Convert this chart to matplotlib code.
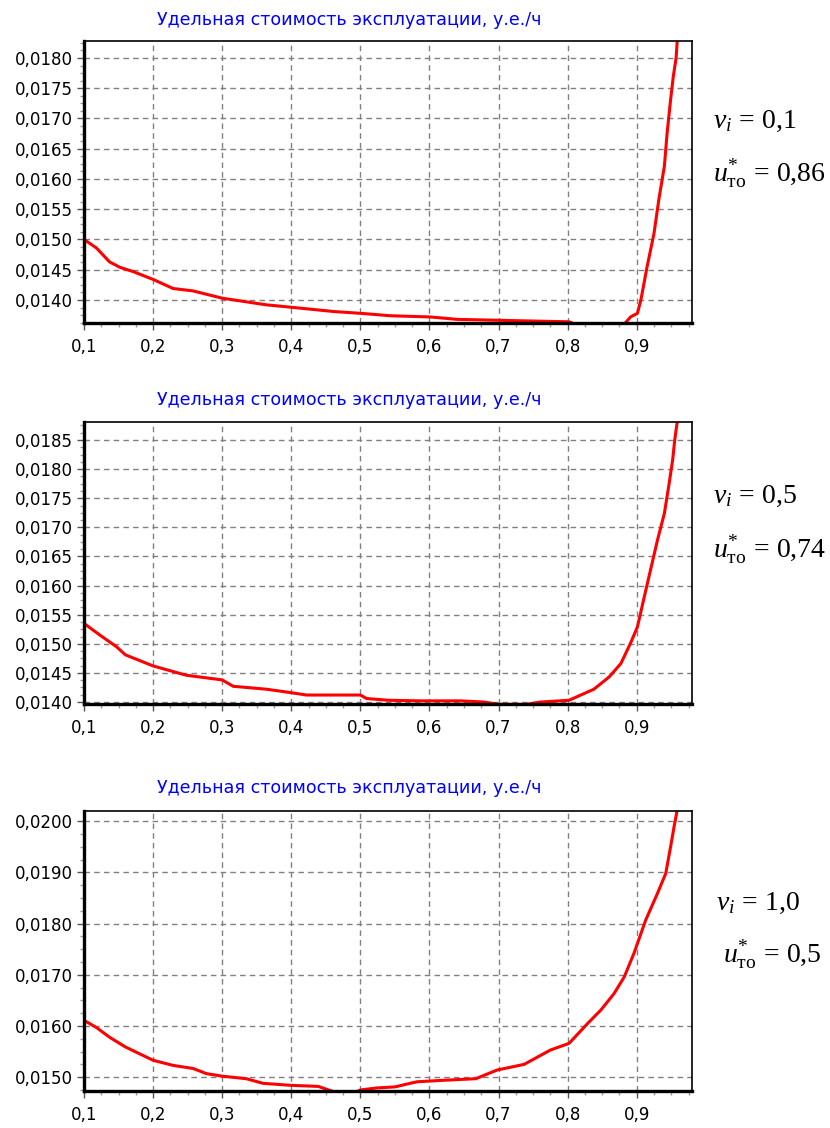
import matplotlib
matplotlib.use("Agg")
import matplotlib.pyplot as plt
from matplotlib.ticker import MultipleLocator, AutoMinorLocator, FuncFormatter

title_text = "Удельная стоимость эксплуатации, у.е./ч"

#panel 1: nu_i = 0.1
x1 = [0.100, 0.118, 0.137, 0.152, 0.171, 0.200, 0.229, 0.258, 0.300, 0.364,
      0.400, 0.461, 0.500, 0.543, 0.601, 0.640, 0.720, 0.802, 0.820, 0.860,
      0.882, 0.891, 0.901, 0.906, 0.915, 0.925, 0.932, 0.940, 0.944, 0.949,
      0.953, 0.957, 0.959]
y1 = [0.01500, 0.01486, 0.01463, 0.01454, 0.01447, 0.01434, 0.01419, 0.01415,
      0.01403, 0.01392, 0.01388, 0.01381, 0.01378, 0.01374, 0.01372, 0.01368,
      0.01366, 0.01364, 0.01356, 0.01356, 0.01360, 0.01372, 0.01378, 0.01400,
      0.01455, 0.01510, 0.01566, 0.01621, 0.01676, 0.01731, 0.01770, 0.01800,
      0.01835]

#panel 2: nu_i = 0.5
x2 = [0.100, 0.123, 0.147, 0.160, 0.200, 0.248, 0.300, 0.316, 0.364, 0.400,
      0.422, 0.500, 0.509, 0.541, 0.587, 0.645, 0.679, 0.700, 0.740, 0.761,
      0.802, 0.819, 0.838, 0.860, 0.877, 0.891, 0.901, 0.911, 0.920, 0.930,
      0.940, 0.947, 0.952, 0.955, 0.959]
y2 = [0.01535, 0.01515, 0.01495, 0.01481, 0.01462, 0.01446, 0.01438, 0.01427,
      0.01422, 0.01416, 0.01412, 0.01412, 0.01406, 0.01403, 0.01402, 0.01402,
      0.01400, 0.01396, 0.01396, 0.01400, 0.01403, 0.01412, 0.01422, 0.01443,
      0.01466, 0.01501, 0.01529, 0.01581, 0.01627, 0.01678, 0.01724, 0.01776,
      0.01816, 0.01850, 0.01885]

#panel 3: nu_i = 1.0
x3 = [0.100, 0.118, 0.137, 0.160, 0.180, 0.200, 0.229, 0.258, 0.277, 0.300,
      0.335, 0.359, 0.400, 0.439, 0.454, 0.470, 0.490, 0.500, 0.524, 0.550,
      0.572, 0.582, 0.621, 0.667, 0.698, 0.737, 0.775, 0.802, 0.829, 0.848,
      0.867, 0.882, 0.896, 0.913, 0.930, 0.942, 0.949, 0.954, 0.959]
y3 = [0.01611, 0.01597, 0.01578, 0.01559, 0.01546, 0.01533, 0.01523, 0.01517,
      0.01507, 0.01502, 0.01497, 0.01488, 0.01484, 0.01482, 0.01475, 0.01468,
      0.01468, 0.01475, 0.01479, 0.01481, 0.01488, 0.01491, 0.01494, 0.01497,
      0.01514, 0.01525, 0.01553, 0.01566, 0.01605, 0.01631, 0.01663, 0.01696,
      0.01742, 0.01807, 0.01859, 0.01898, 0.01950, 0.01989, 0.02025]

panels = [
    (x1, y1, (0.01362, 0.01828), 0.0005, ["\\nu_i\\,=\\,0{,}1", "u^{*}_{\\mathrm{то}}\\,=\\,0{,}86"]),
    (x2, y2, (0.013966, 0.01881), 0.0005, ["\\nu_i\\,=\\,0{,}5", "u^{*}_{\\mathrm{то}}\\,=\\,0{,}74"]),
    (x3, y3, (0.01473, 0.0202), 0.001, ["\\nu_i\\,=\\,1{,}0", "u^{*}_{\\mathrm{то}}\\,=\\,0{,}5"]),
]

#pixel layout (top, bottom) of each axes box
boxes = [(41, 323), (422, 704), (811, 1091)]
title_y = [20, 400, 788]
note_y = [(120, 173), (495, 550), (902, 955)]
note_x = [(713, 713), (713, 713), (716, 723)]

W, H = 830, 1128
fig = plt.figure(figsize=(W / 100, H / 100), dpi=100)
plt.rcParams['mathtext.fontset'] = 'custom'
plt.rcParams['mathtext.rm'] = 'Liberation Serif'
plt.rcParams['mathtext.it'] = 'Liberation Serif:italic'

comma = FuncFormatter(lambda v, p: ("%.1f" % v).replace(".", ","))
comma4 = FuncFormatter(lambda v, p: ("%.4f" % v).replace(".", ","))

for i, (xs, ys, ylim, step, notes) in enumerate(panels):
    top, bot = boxes[i]
    ax = fig.add_axes([84 / W, 1 - bot / H, 608 / W, (bot - top) / H])
    ax.plot(xs, ys, color="red", lw=2.2, zorder=2)
    ax.set_xlim(0.1, 0.98)
    ax.set_ylim(*ylim)
    ax.xaxis.set_major_locator(MultipleLocator(0.1))
    ax.xaxis.set_minor_locator(MultipleLocator(0.025))
    ax.yaxis.set_major_locator(MultipleLocator(step))
    ax.yaxis.set_minor_locator(AutoMinorLocator(4))
    ax.xaxis.set_major_formatter(comma)
    ax.yaxis.set_major_formatter(comma4)
    ax.grid(True, which="major", color="#808080", linestyle=(0, (4, 3)), lw=1)
    ax.tick_params(which="major", direction="out", length=5, width=1,
                   color="#555555", labelsize=12, pad=3)
    ax.tick_params(axis="x", which="major", pad=6)
    ax.tick_params(which="minor", direction="out", length=3, width=1,
                   color="#999999")
    ax.spines["left"].set_linewidth(2.4)
    ax.spines["bottom"].set_linewidth(2.4)
    ax.spines["top"].set_linewidth(1.2)
    ax.spines["right"].set_linewidth(1.2)
    for s in ax.spines.values():
        s.set_zorder(3)

    fig.text(349 / W, 1 - title_y[i] / H, title_text, color="#0000ff",
             fontsize=12.6, ha="center", va="center")
    for j in range(2):
        fig.text(note_x[i][j] / W, 1 - note_y[i][j] / H, "$" + notes[j] + "$",
                 fontsize=20, ha="left", va="center")

fig.savefig("out.png", dpi=100)
